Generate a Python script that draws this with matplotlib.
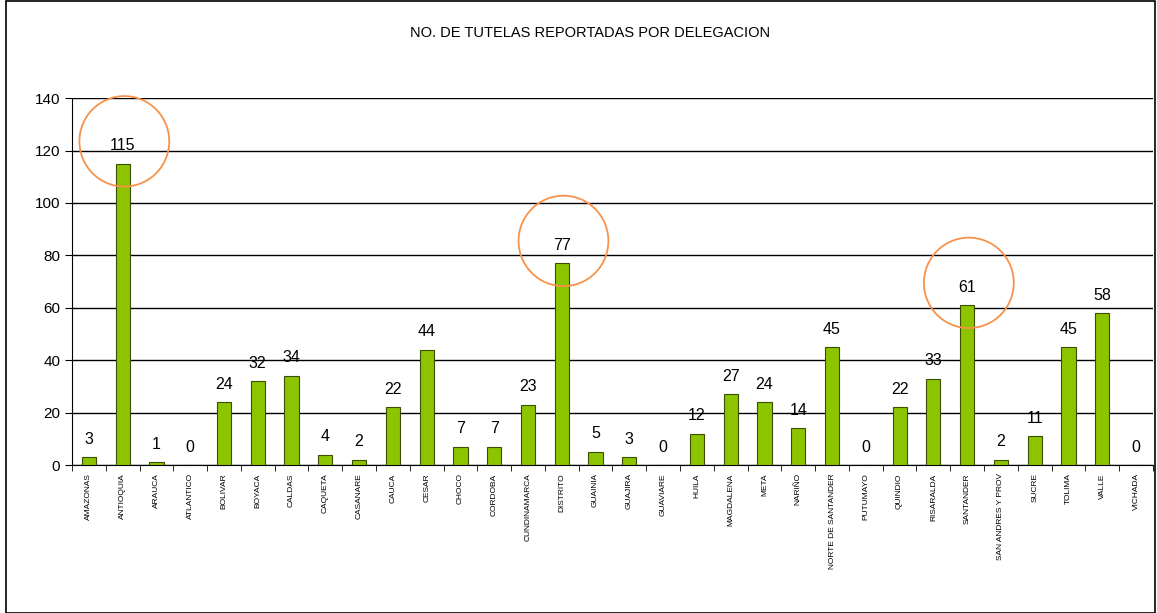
import matplotlib.pyplot as plt
from matplotlib.patches import Ellipse, Rectangle
import numpy as np

plt.rcParams['font.family'] = ['Liberation Sans', 'DejaVu Sans']

departamentos = ['AMAZONAS', 'ANTIOQUIA', 'ARAUCA', 'ATLANTICO', 'BOLIVAR', 'BOYACA',
                 'CALDAS', 'CAQUETA', 'CASANARE', 'CAUCA', 'CESAR', 'CHOCO', 'CORDOBA',
                 'CUNDINAMARCA', 'DISTRITO', 'GUAINIA', 'GUAJIRA', 'GUAVIARE', 'HUILA',
                 'MAGDALENA', 'META', 'NARIÑO', 'NORTE DE SANTANDER', 'PUTUMAYO',
                 'QUINDIO', 'RISARALDA', 'SANTANDER', 'SAN ANDRES Y PROV', 'SUCRE',
                 'TOLIMA', 'VALLE', 'VICHADA']
tutelas = [3, 115, 1, 0, 24, 32, 34, 4, 2, 22, 44, 7, 7, 23, 77, 5, 3, 0, 12, 27,
           24, 14, 45, 0, 22, 33, 61, 2, 11, 45, 58, 0]
destacados = ['ANTIOQUIA', 'DISTRITO', 'SANTANDER']

fig = plt.figure(figsize=(11.57, 6.13), dpi=100)
ax = fig.add_axes([0.0622, 0.2414, 0.9343, 0.5986])

x = np.arange(len(departamentos))
ax.bar(x, tutelas, width=0.42, color='#8CC400', edgecolor='#3A5000', linewidth=0.8, zorder=3)

for xi, v in zip(x, tutelas):
    ax.text(xi, v + 4, str(v), ha='center', va='bottom', fontsize=11.5, zorder=4)

# circulos naranjas sobre los valores destacados
for nombre in destacados:
    i = departamentos.index(nombre)
    ax.add_patch(Ellipse((i + 0.05, tutelas[i] + 8.5), width=2.66, height=34.5,
                         fill=False, edgecolor='#F7924A', linewidth=1.3, zorder=5,
                         clip_on=False))

ax.set_xlim(-0.5, len(departamentos) - 0.5)
ax.set_ylim(0, 140)
ax.set_yticks(range(0, 141, 20))
ax.yaxis.grid(True, color='black', linewidth=1, zorder=0)
ax.set_xticks(x)
ax.set_xticklabels(departamentos, rotation=90, fontsize=6)
ax.set_xticks(np.arange(-0.5, len(departamentos)), minor=True)
ax.tick_params(axis='x', which='major', length=0, pad=6)
ax.tick_params(axis='x', which='minor', length=4, color='black')
ax.tick_params(axis='y', labelsize=11, length=5)
for side in ['top', 'right']:
    ax.spines[side].set_visible(False)

fig.text(0.51, 0.946, 'NO. DE TUTELAS REPORTADAS POR DELEGACION',
         ha='center', va='center', fontsize=10.5)

fig.patches.append(Rectangle((0.005, 0.0), 0.993, 0.998, transform=fig.transFigure,
                             fill=False, edgecolor='black', linewidth=1.2))

plt.savefig('out.png')
